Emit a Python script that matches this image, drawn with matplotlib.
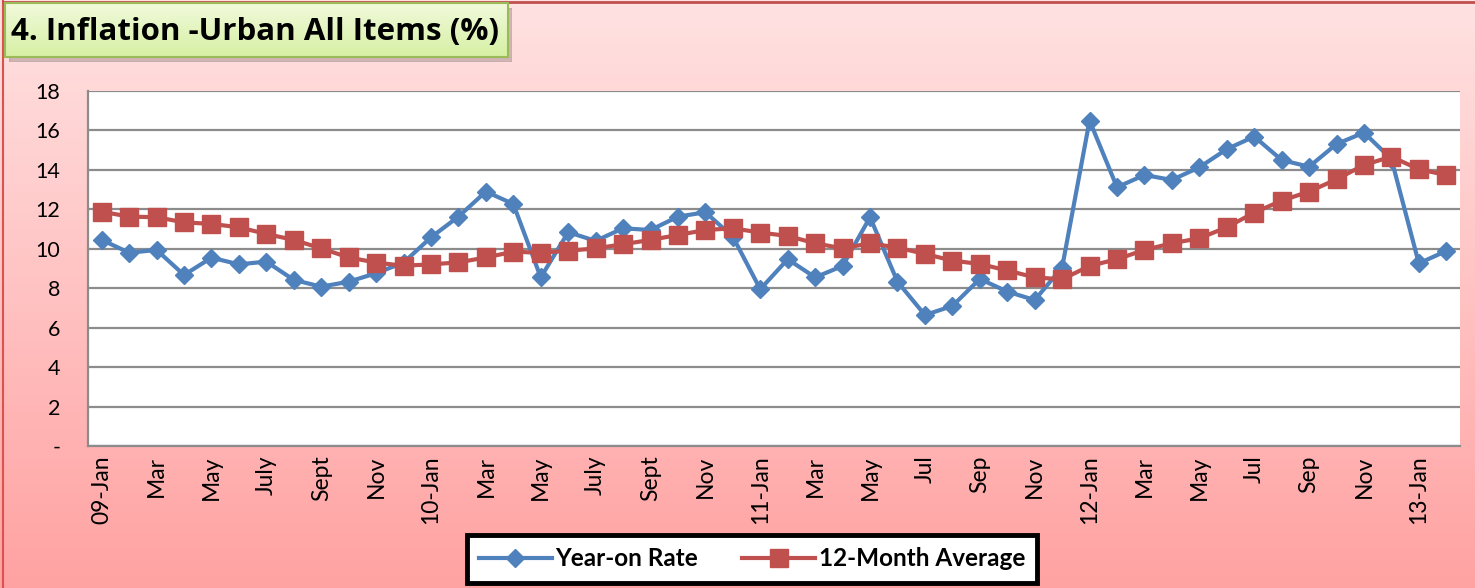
import numpy as np
from matplotlib import pyplot as plt
from matplotlib.patches import Rectangle

plt.rcParams['font.family'] = ['Lato', 'DejaVu Sans']

# data (monthly, Jan 2009 - Feb 2013)
tick_labels = ['09-Jan', 'Mar', 'May', 'July', 'Sept', 'Nov',
               '10-Jan', 'Mar', 'May', 'July', 'Sept', 'Nov',
               '11-Jan', 'Mar', 'May', 'Jul', 'Sep', 'Nov',
               '12-Jan', 'Mar', 'May', 'Jul', 'Sep', 'Nov',
               '13-Jan']
year_on = [10.45, 9.80, 9.94, 8.67, 9.55, 9.21, 9.35, 8.42, 8.08, 8.33,
           8.76, 9.30, 10.58, 11.63, 12.90, 12.27, 8.55, 10.84, 10.40, 11.04,
           10.95, 11.63, 11.85, 10.61, 7.95, 9.47, 8.55, 9.13, 11.60, 8.33,
           6.64, 7.10, 8.47, 7.83, 7.40, 9.05, 16.50, 13.12, 13.74, 13.49,
           14.13, 15.05, 15.69, 14.50, 14.16, 15.31, 15.89, 14.55, 9.26, 9.89]
avg_12m = [11.88, 11.63, 11.60, 11.34, 11.26, 11.09, 10.75, 10.45, 10.02, 9.56,
           9.30, 9.14, 9.21, 9.31, 9.56, 9.85, 9.80, 9.90, 10.02, 10.23,
           10.45, 10.70, 10.95, 11.04, 10.82, 10.65, 10.28, 10.02, 10.28, 10.06,
           9.74, 9.40, 9.23, 8.90, 8.55, 8.45, 9.13, 9.47, 9.94, 10.28,
           10.53, 11.09, 11.83, 12.44, 12.90, 13.52, 14.25, 14.67, 14.03, 13.74]
y_ticks = [0, 2, 4, 6, 8, 10, 12, 14, 16, 18]
y_tick_labels = ['-', '2', '4', '6', '8', '10', '12', '14', '16', '18']

W, H = 1475, 588
fig = plt.figure(figsize=(W / 100, H / 100), dpi=100)

# pink gradient background
bg = fig.add_axes([0, 0, 1, 1], zorder=-10)
grad = np.linspace(0, 1, 256).reshape(-1, 1)
top = np.array([1.0, 0.886, 0.886])
bot = np.array([1.0, 0.635, 0.635])
img = top + (bot - top) * grad[:, :, None]
bg.imshow(img, aspect='auto', extent=[0, 1, 0, 1], origin='upper')
bg.set_xlim(0, 1)
bg.set_ylim(0, 1)
bg.axis('off')
bg.plot([3 / W, 3 / W], [0, 1 - 1 / H], color='#D9534F', lw=1.5)
bg.plot([3 / W, 1], [1 - 1.5 / H, 1 - 1.5 / H], color='#C0504D', lw=2)

# main chart
ax = fig.add_axes([88 / W, 1 - 446 / H, (1460 - 88) / W, (446 - 91) / H])
ax.set_facecolor('white')
x = np.arange(len(year_on))
ax.plot(x, year_on, color='#4F81BD', lw=3, marker='D', markersize=9.5,
        label='Year-on Rate', zorder=3, solid_joinstyle='round')
ax.plot(x, avg_12m, color='#C0504D', lw=3, marker='s', markersize=13.5,
        label='12-Month Average', zorder=4)
ax.set_xlim(-0.5, len(year_on) - 0.5)
ax.set_ylim(0, 18)
ax.set_yticks(y_ticks)
ax.set_yticklabels(y_tick_labels, fontsize=15.5)
ax.set_xticks(np.arange(0, len(year_on), 2))
ax.set_xticklabels(tick_labels, rotation=90, fontsize=16.5)
ax.tick_params(axis='y', length=0, pad=20)
ax.tick_params(axis='x', length=0, pad=7)
ax.grid(axis='y', color='#8C8C8C', lw=1.6)
ax.set_axisbelow(True)
for s in ['top', 'right']:
    ax.spines[s].set_visible(False)
for s in ['left', 'bottom']:
    ax.spines[s].set_color('#8C8C8C')
    ax.spines[s].set_linewidth(1.6)

leg = fig.legend(loc='center', bbox_to_anchor=(752 / W, 1 - 559 / H), ncol=2,
                 frameon=True, fancybox=False, framealpha=1, edgecolor='black',
                 prop={'weight': 'bold', 'size': 17.5}, handlelength=3.0,
                 columnspacing=1.8, handletextpad=0.15, borderpad=0.5,
                 borderaxespad=0)
leg.get_frame().set_linewidth(3.5)

# title box
shadow = fig.add_axes([9 / W, 1 - 62 / H, 503 / W, 54 / H], zorder=4)
shadow.add_patch(Rectangle((0, 0), 1, 1, color='#7a6a6a', alpha=0.35))
shadow.axis('off')
tb = fig.add_axes([5 / W, 1 - 57 / H, 503 / W, 54 / H], zorder=5)
g_top = np.array([0.945, 0.98, 0.86])
g_bot = np.array([0.84, 0.94, 0.64])
timg = g_top + (g_bot - g_top) * grad[:, :, None]
tb.imshow(timg, aspect='auto', extent=[0, 1, 0, 1], origin='upper')
tb.set_xlim(0, 1)
tb.set_ylim(0, 1)
tb.set_xticks([])
tb.set_yticks([])
for s in tb.spines.values():
    s.set_color('#9BBB59')
    s.set_linewidth(1.5)
tb.text(0.012, 0.47, '4. Inflation -Urban All Items (%)', fontsize=22.5,
        fontweight='bold', va='center', ha='left',
        family=['Open Sans', 'DejaVu Sans'])

fig.savefig('out.png', dpi=100)
